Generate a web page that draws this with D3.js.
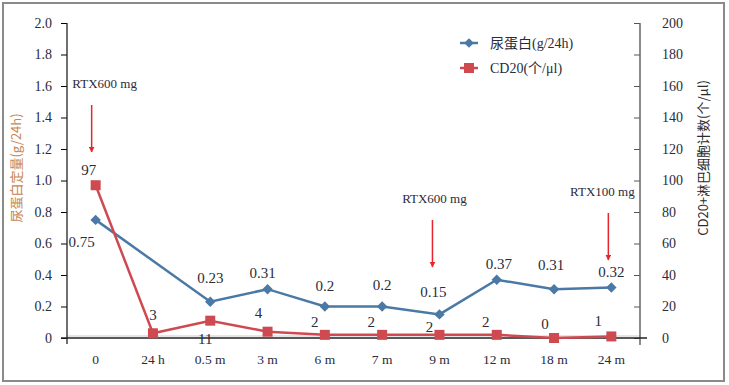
<!DOCTYPE html>
<html>
<head>
<meta charset="utf-8">
<script src="https://cdn.jsdelivr.net/npm/d3@7"></script>
<style>
	body { margin: 0; background: #fff; }
	svg text { font-family: "Liberation Serif", "Noto Sans CJK SC", serif; fill: #2b2b3a; }
	.cjk { font-family: "Noto Sans CJK SC", "Liberation Serif", sans-serif; }
</style>
</head>
<body>
<div id="chartDiv"></div>
<script>
var categories = ["0", "24 h", "0.5 m", "3 m", "6 m", "7 m", "9 m", "12 m", "18 m", "24 m"]
var protein = [0.75, null, 0.23, 0.31, 0.2, 0.2, 0.15, 0.37, 0.31, 0.32]
var cd20 = [97, 3, 11, 4, 2, 2, 2, 2, 0, 1]
var leftTicks = [0, 0.2, 0.4, 0.6, 0.8, 1.0, 1.2, 1.4, 1.6, 1.8, 2.0]
var rightTicks = [0, 20, 40, 60, 80, 100, 120, 140, 160, 180, 200]
var doses = [
	{ cat: "0", text: "RTX600 mg" },
	{ cat: "9 m", text: "RTX600 mg" },
	{ cat: "24 m", text: "RTX100 mg" }
]

;(function() {

	var width = 729;
	var height = 385;
	var margin = { top: 23, right: 89, bottom: 47, left: 67 };
	var blue = "#4a79a6";
	var red = "#cf4a50";
	var arrowRed = "#e8242c";

	// label nudges (dx, dy) relative to each point
	var proteinNudge = [[-14, 27], null, [0, -19], [-5, -11], [0, -16], [0, -17], [-6, -17], [2, -11], [-3, -19], [0, -11]];
	var cd20Nudge = [[-7, -10], [0, -13], [-5, 23], [-9, -14], [-10, -8], [-11, -8], [-10, -3], [-11, -8], [-9, -9], [-13, -10]];
	var doseOffset = { "0": { tx: 9, ax: -4, ty: 65 }, "9 m": { tx: -5, ax: -7, ty: 180 }, "24 m": { tx: -9, ax: -3, ty: 173 } };

	var chartWidth = width - margin.left - margin.right;
	var chartHeight = height - margin.top - margin.bottom;

	var svg = d3.select("#chartDiv").append("svg")
		.attr("width", width)
		.attr("height", height);

	// outer frame
	svg.append("rect")
		.attr("x", 3).attr("y", 3)
		.attr("width", 721).attr("height", 378)
		.attr("fill", "none")
		.attr("stroke", "#8a8a8a")
		.attr("stroke-width", 2);

	svg.append("defs").append("marker")
		.attr("id", "arrow")
		.attr("viewBox", "0 0 10 10")
		.attr("refX", 9).attr("refY", 5)
		.attr("markerWidth", 4).attr("markerHeight", 4)
		.attr("orient", "auto")
		.append("path")
		.attr("d", "M0,0 L10,5 L0,10 z")
		.attr("fill", arrowRed);

	var plot = svg.append("g")
		.attr("transform", "translate(" + margin.left + "," + margin.top + ")");

	var x = d3.scaleBand().domain(categories).range([0, chartWidth]);
	var yL = d3.scaleLinear().domain([0, 2]).range([chartHeight, 0]);
	var yR = d3.scaleLinear().domain([0, 200]).range([chartHeight, 0]);
	var cx = function(c) { return x(c) + x.bandwidth() / 2; };

	// faint zero line
	plot.append("line")
		.attr("x1", 0).attr("x2", chartWidth)
		.attr("y1", yR(0) - 2).attr("y2", yR(0) - 2)
		.attr("stroke", "#dcdcdc").attr("stroke-width", 1.5);

	// left axis
	var leftAxis = plot.append("g")
		.call(d3.axisLeft(yL).tickValues(leftTicks).tickSize(6).tickPadding(9)
			.tickFormat(function(d) { return d === 0 ? "0" : d3.format(".1f")(d); }));
	leftAxis.select(".domain").remove();
	leftAxis.selectAll("text").style("font-size", "14px").style("fill", "#2b2b3a");
	plot.append("line")
		.attr("x1", 0).attr("x2", 0).attr("y1", 0).attr("y2", chartHeight + 6)
		.attr("stroke", "#222").attr("stroke-width", 1.3);

	// right axis
	var rightAxis = plot.append("g")
		.attr("transform", "translate(" + chartWidth + ",0)")
		.call(d3.axisRight(yR).tickValues(rightTicks).tickSize(-6).tickPadding(22));
	rightAxis.select(".domain").remove();
	rightAxis.selectAll("text").style("font-size", "14px").style("fill", "#2b2b3a");
	rightAxis.selectAll(".tick line").attr("stroke", "#555");
	plot.append("line")
		.attr("x1", chartWidth).attr("x2", chartWidth).attr("y1", 0).attr("y2", chartHeight + 7)
		.attr("stroke", "#666").attr("stroke-width", 1.5);

	// bottom axis
	plot.append("line")
		.attr("x1", -6).attr("x2", chartWidth + 7)
		.attr("y1", chartHeight).attr("y2", chartHeight)
		.attr("stroke", "#222").attr("stroke-width", 1.3);
	plot.selectAll(".xlab").data(categories).enter().append("text")
		.attr("class", "xlab")
		.attr("x", function(d) { return cx(d); })
		.attr("y", chartHeight + 26)
		.attr("text-anchor", "middle")
		.style("font-size", "13.5px")
		.text(function(d) { return d; });

	// axis titles
	svg.append("text")
		.attr("class", "cjk")
		.attr("text-anchor", "middle")
		.attr("transform", "translate(21,168) rotate(-90)")
		.style("font-size", "13px")
		.style("fill", "#c7864f")
		.text("尿蛋白定量(g/24h)");
	svg.append("text")
		.attr("class", "cjk")
		.attr("text-anchor", "middle")
		.attr("transform", "translate(708,158) rotate(-90)")
		.style("font-size", "13px")
		.style("fill", "#2b2b2b")
		.text("CD20+淋巴细胞计数(个/μl)");

	// protein line
	var pData = categories.map(function(c, i) { return { c: c, v: protein[i], n: proteinNudge[i] }; })
		.filter(function(d) { return d.v !== null; });
	plot.append("path")
		.datum(pData)
		.attr("fill", "none")
		.attr("stroke", blue)
		.attr("stroke-width", 2.5)
		.attr("d", d3.line().x(function(d) { return cx(d.c); }).y(function(d) { return yL(d.v); }));
	plot.selectAll(".pdot").data(pData).enter().append("path")
		.attr("class", "pdot")
		.attr("transform", function(d) { return "translate(" + cx(d.c) + "," + yL(d.v) + ")"; })
		.attr("d", d3.symbol().type(d3.symbolDiamond2).size(70))
		.attr("fill", blue);
	plot.selectAll(".plab").data(pData).enter().append("text")
		.attr("class", "plab")
		.attr("x", function(d) { return cx(d.c) + d.n[0]; })
		.attr("y", function(d) { return yL(d.v) + d.n[1]; })
		.attr("text-anchor", "middle")
		.style("font-size", "15px")
		.text(function(d) { return d.v; });

	// CD20 line
	var cData = categories.map(function(c, i) { return { c: c, v: cd20[i], n: cd20Nudge[i] }; });
	plot.append("path")
		.datum(cData)
		.attr("fill", "none")
		.attr("stroke", red)
		.attr("stroke-width", 2.5)
		.attr("d", d3.line().x(function(d) { return cx(d.c); }).y(function(d) { return yR(d.v); }));
	plot.selectAll(".cdot").data(cData).enter().append("rect")
		.attr("class", "cdot")
		.attr("x", function(d) { return cx(d.c) - 5; })
		.attr("y", function(d) { return yR(d.v) - 5; })
		.attr("width", 10).attr("height", 10)
		.attr("fill", red);
	plot.selectAll(".clab").data(cData).enter().append("text")
		.attr("class", "clab")
		.attr("x", function(d) { return cx(d.c) + d.n[0]; })
		.attr("y", function(d) { return yR(d.v) + d.n[1]; })
		.attr("text-anchor", "middle")
		.style("font-size", "15px")
		.text(function(d) { return d.v; });

	// dose annotations
	doses.forEach(function(d) {
		var o = doseOffset[d.cat];
		var px = cx(d.cat) + o.ax;
		plot.append("text")
			.attr("x", cx(d.cat) + o.tx)
			.attr("y", o.ty)
			.attr("text-anchor", "middle")
			.style("font-size", "13px")
			.text(d.text);
		plot.append("line")
			.attr("x1", px).attr("x2", px)
			.attr("y1", o.ty + 17).attr("y2", o.ty + 64)
			.attr("stroke", arrowRed)
			.attr("stroke-width", 1.5)
			.attr("marker-end", "url(#arrow)");
	});

	// legend
	var legend = svg.append("g").attr("transform", "translate(460,43)");
	legend.append("line").attr("x1", 0).attr("x2", 18).attr("y1", 0).attr("y2", 0)
		.attr("stroke", blue).attr("stroke-width", 2.5);
	legend.append("path").attr("transform", "translate(9,0)")
		.attr("d", d3.symbol().type(d3.symbolDiamond2).size(60)).attr("fill", blue);
	legend.append("text").attr("x", 30).attr("y", 5).style("font-size", "14px").text("尿蛋白(g/24h)");
	legend.append("line").attr("x1", 0).attr("x2", 18).attr("y1", 25).attr("y2", 25)
		.attr("stroke", red).attr("stroke-width", 2.5);
	legend.append("rect").attr("x", 4).attr("y", 20).attr("width", 10).attr("height", 10).attr("fill", red);
	legend.append("text").attr("x", 30).attr("y", 30).style("font-size", "14px").text("CD20(个/μl)");

})();
</script>
</body>
</html>
